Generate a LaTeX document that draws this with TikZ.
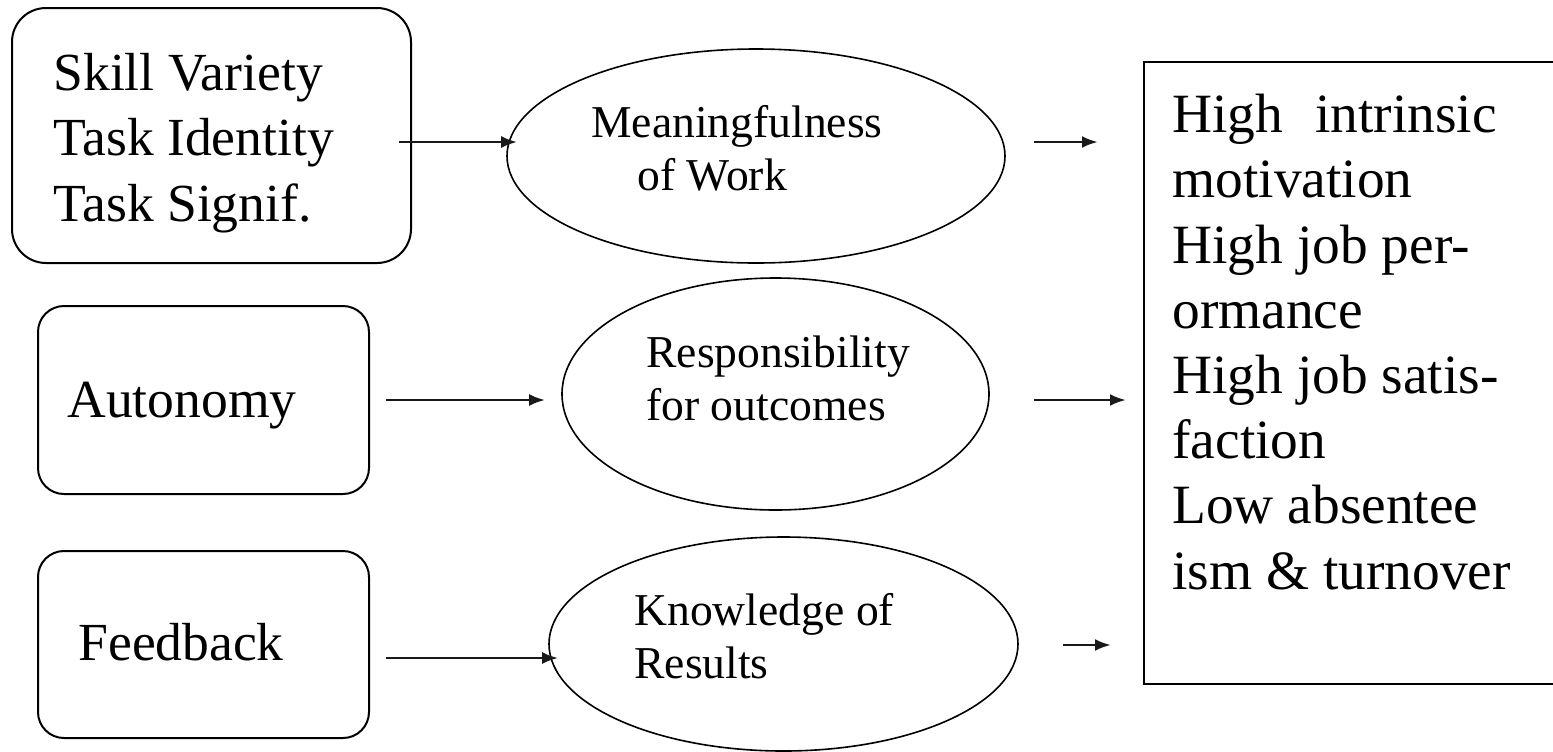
\documentclass[tikz,border=0pt]{standalone}
\usepackage{fontspec}
\setmainfont{Liberation Serif}
\usetikzlibrary{shapes.geometric,arrows.meta}
\begin{document}
\begin{tikzpicture}[x=0.5pt,y=-0.5pt,
  sq/.style={draw, line width=1pt, rectangle, inner sep=0pt},
  ov/.style={draw, line width=0.8pt, ellipse, inner sep=0pt},
  big/.style={font=\fontsize{26.8pt}{32.75pt}\selectfont, anchor=base west, inner sep=0pt, align=left},
  mid/.style={font=\fontsize{22.8pt}{26.5pt}\selectfont, anchor=base west, inner sep=0pt, align=left},
  outtxt/.style={font=\fontsize{27.7pt}{32.6pt}\selectfont, anchor=base west, inner sep=0pt, align=left},
  arr/.style={-{Latex[length=8pt,width=6pt]}, line width=1.4pt, draw=black!90}]
\useasboundingbox (0,0) rectangle (1553,751);

% left boxes
\node[sq, rounded corners=17pt, minimum width=199.5pt, minimum height=127.5pt] (b1) at (211.5,135.5) {};
\node[sq, rounded corners=13pt, minimum width=165.5pt, minimum height=94pt] (b2) at (203.5,400) {};
\node[sq, rounded corners=13pt, minimum width=165.5pt, minimum height=93.5pt] (b3) at (203.5,644.5) {};

% ellipses
\node[ov, minimum width=249pt, minimum height=107pt] (e1) at (756,156) {};
\node[ov, minimum width=213.5pt, minimum height=116pt] (e2) at (775.5,394) {};
\node[ov, minimum width=234.5pt, minimum height=107pt] (e3) at (783.5,644) {};

% outcome box
\node[sq, minimum width=208pt, minimum height=311pt] (r) at (1352,373) {};

% texts (anchor at the baseline of the last line)
\node[big] (t1) at (53,221) {Skill Variety\\Task Identity\\Task Signif.};
\node[big] (t2) at (67,417) {Autonomy};
\node[big] (t3) at (78,660) {Feedback};

\node[mid] (m1) at (591,190) {Meaningfulness\\\hspace*{23pt}of Work};
\node[mid] (m2) at (646,420) {Responsibility\\for outcomes};
\node[mid] (m3) at (634,678) {Knowledge of\\Results};

\node[outtxt] (rt) at (1172,589) {High\hspace{0.58em}intrinsic\\motivation\\High job per-\\ormance\\High job satis-\\faction\\Low absentee\\ism \& turnover};

% connectors
\draw[arr] ([shift={(-13,6.5)}]b1.east) -- ([shift={(11,-14)}]e1.west);
\draw[arr] ([shift={(16,0)}]b2.east) -- ([shift={(-16,6)}]e2.west);
\draw[arr] ([shift={(16,13.5)}]b3.east) -- ([shift={(10,14)}]e3.west);

\draw[arr] ([shift={(28,-14)}]e1.east) -- ([shift={(-45,-231)}]r.west);
\draw[arr] ([shift={(44,6)}]e2.east) -- ([shift={(-17,27)}]r.west);
\draw[arr] ([shift={(44,1)}]e3.east) -- ([shift={(-32,272)}]r.west);
\end{tikzpicture}
\end{document}
